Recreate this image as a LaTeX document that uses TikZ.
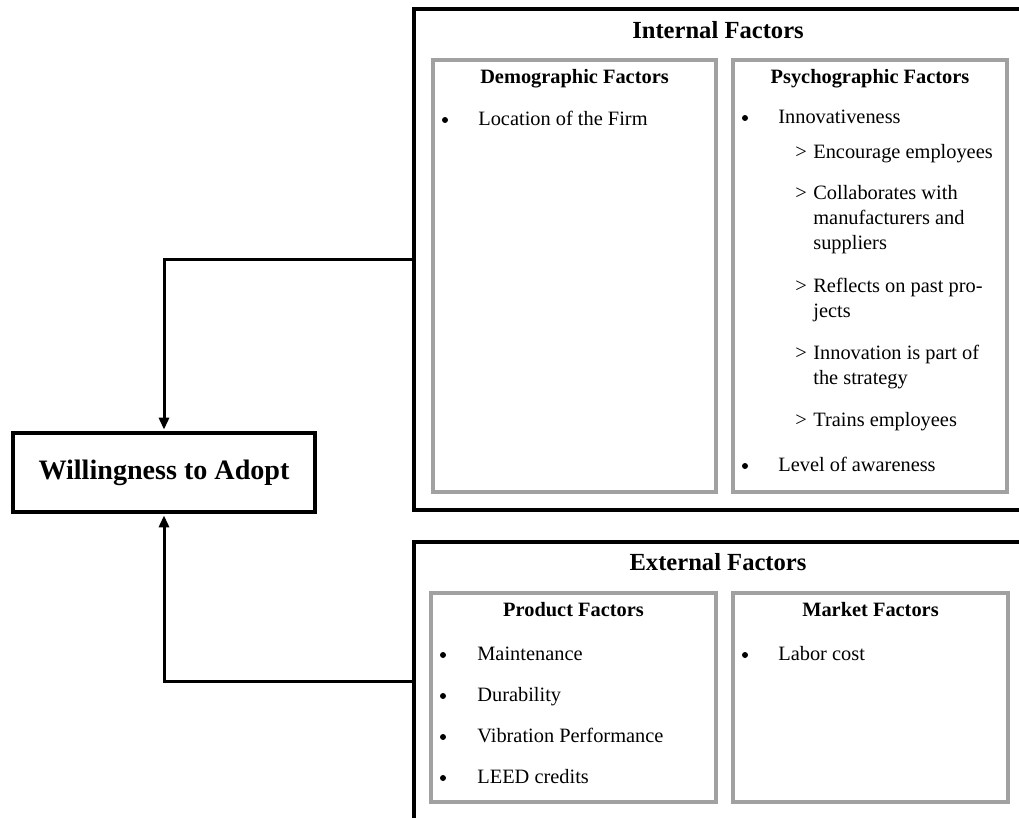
\documentclass[tikz,border=0pt]{standalone}
\usepackage{fontspec}
\setmainfont{Liberation Serif}
\usetikzlibrary{arrows.meta,positioning}

\begin{document}
\begin{tikzpicture}[x=0.02cm, y=-0.02cm,
	frame/.style={draw=black, line width=0.075cm, rectangle, inner sep=0pt},
	subframe/.style={draw=black!37, line width=0.08cm},
	link/.style={line width=0.06cm, shorten >=0.03cm, -{Triangle[length=0.24cm, width=0.2cm]}},
	title/.style={font=\fontsize{14}{16}\selectfont\bfseries, anchor=base},
	subtitle/.style={font=\fontsize{11.6}{14}\selectfont\bfseries, anchor=base},
	item/.style={font=\fontsize{11.6}{14.2}\selectfont, anchor=base west, align=left, inner sep=0pt},
	dot/.style={circle, fill=black, inner sep=0pt, minimum size=0.12cm}]

	\useasboundingbox (0,0) rectangle (1019,818);
	\clip (0,0) rectangle (1019,818);

	% outer frames
	\node[frame, minimum width=12.24cm, minimum height=10.02cm, anchor=north west] (internal) at (412,7) {};
	\node[frame, minimum width=12.24cm, minimum height=5.6cm, anchor=north west] (external) at (412,540) {};
	\node[frame, minimum width=6.04cm, minimum height=1.58cm, font=\fontsize{16}{18}\selectfont\bfseries] (adopt) at (164,472.5) {Willingness to Adopt};

	\draw[link] (internal.west) -| (adopt.north);
	\draw[link] (external.west) -| (adopt.south);

	% inner frames
	\draw[subframe] (433,60) rectangle (716,492);
	\draw[subframe] (733,60) rectangle (1007,492);
	\draw[subframe] (431,593) rectangle (716,802);
	\draw[subframe] (733,593) rectangle (1008,802);

	\node[title] (intTitle) at (718,38) {Internal Factors};
	\node[title] (extTitle) at (718,570) {External Factors};
	\node[subtitle] (demoTitle) at (574.5,83) {Demographic Factors};
	\node[subtitle] (psychoTitle) at (870,83) {Psychographic Factors};
	\node[subtitle] (prodTitle) at (573.5,616) {Product Factors};
	\node[subtitle] (marketTitle) at (870.5,616) {Market Factors};

	% demographic
	\node[dot] (ddot) at (445,120) {};
	\node[item] (ditem) at (478,125) {Location of the Firm};

	% psychographic (base of a node = its last line, so shift by extra lines)
	\node[dot] (sdot1) at (745,118) {};
	\node[item] (sitem1) at (778,123) {Innovativeness};
	\foreach \txt/\bl/\nl [count=\i] in {Encourage employees/158/0, {Collaborates with\\manufacturers and\\suppliers}/199/2,
		{Reflects on past pro-\\jects}/292/1, {Innovation is part of\\the strategy}/359/1, Trains employees/426/0}{
		\node[item] (gt\i) at (795,\bl) {>};
		\node[item] (sub\i) at (813,{\bl+25*\nl}) {\txt};
	}
	\node[dot] (sdot2) at (745,466) {};
	\node[item] (sitem2) at (778,471) {Level of awareness};

	% product
	\foreach \txt [count=\i] in {Maintenance, Durability, Vibration Performance, LEED credits}{
		\node[dot] (pdot\i) at (443,{655+41*(\i-1)}) {};
		\node[item] (pitem\i) at (477,{660+41*(\i-1)}) {\txt};
	}

	% market
	\node[dot] (mdot) at (745,655) {};
	\node[item] (mitem) at (778,660) {Labor cost};

\end{tikzpicture}
\end{document}
